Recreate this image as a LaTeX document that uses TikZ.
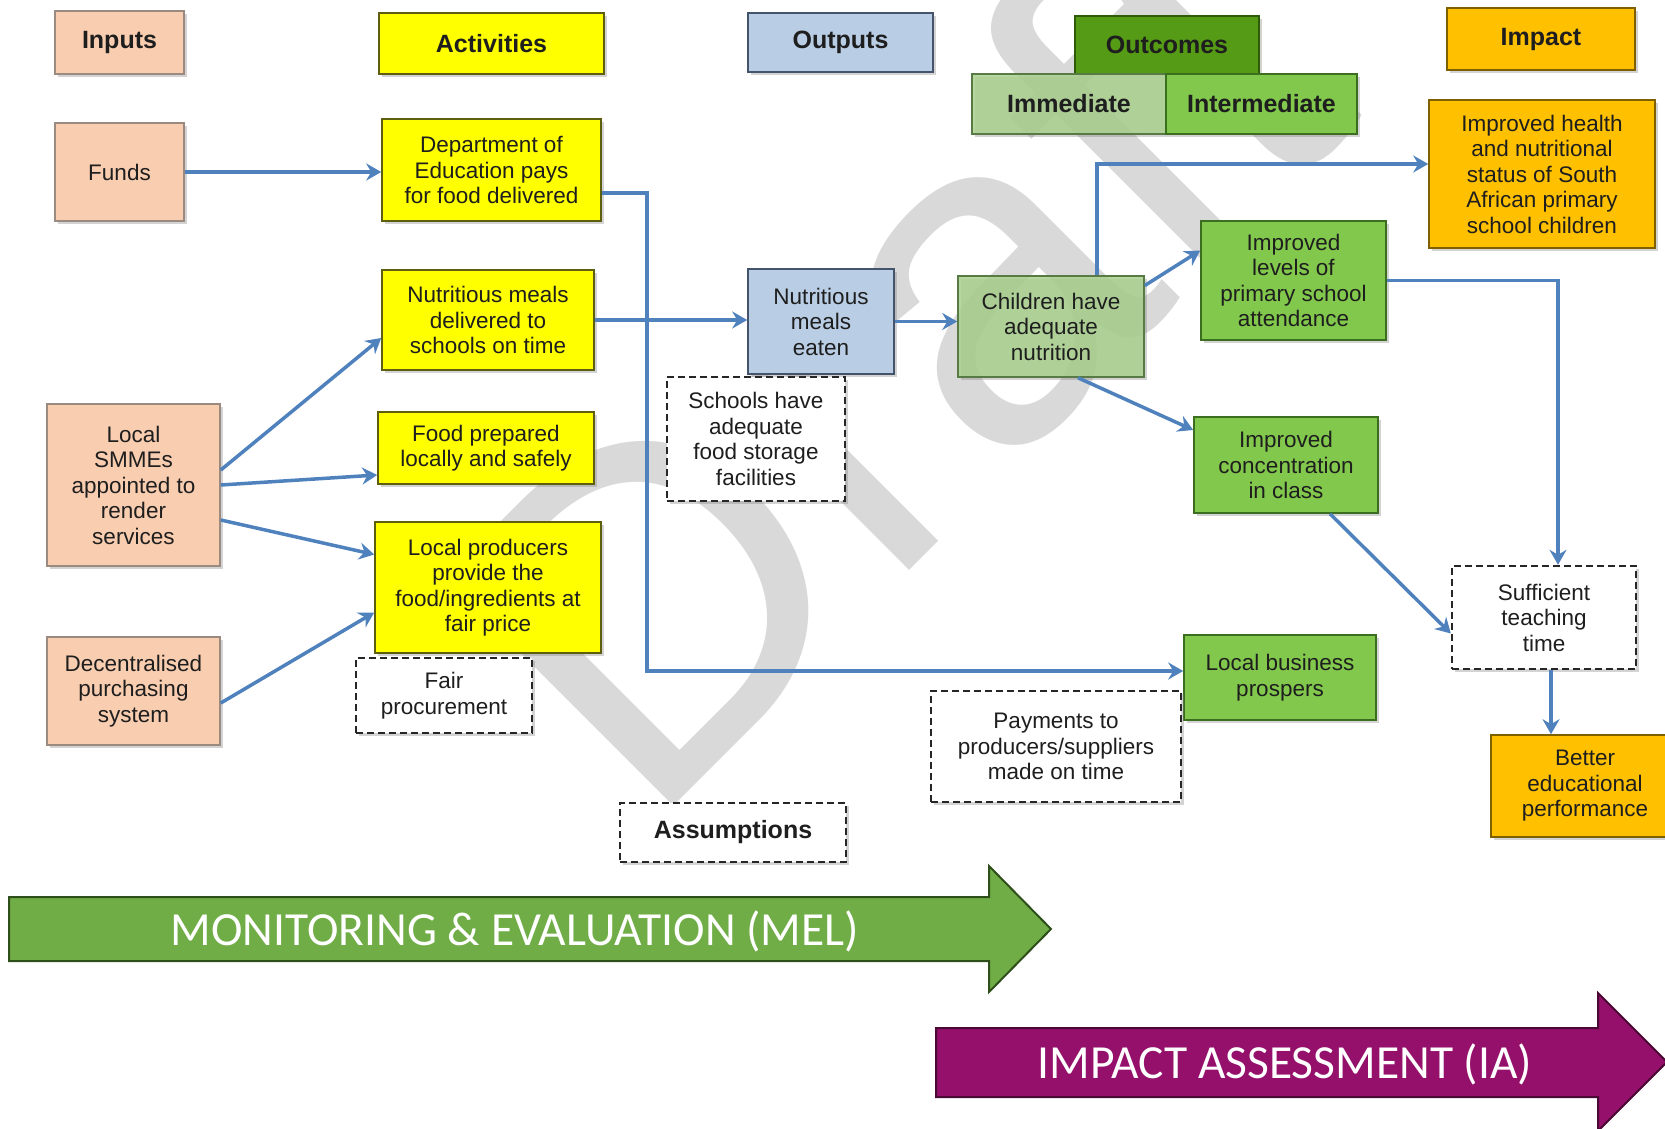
\documentclass[tikz,border=0pt]{standalone}
\usepackage{fontspec}
\setmainfont{Liberation Sans}
\newfontfamily\calibfont{Carlito}
\usetikzlibrary{arrows.meta,shadows}

\definecolor{txt}{HTML}{1E1E1E}
\definecolor{peach}{HTML}{F9CDB0}
\definecolor{peachdk}{HTML}{9A8A80}
\definecolor{yel}{HTML}{FFFF00}
\definecolor{yeldk}{HTML}{5E5E10}
\definecolor{blu}{HTML}{B9CDE5}
\definecolor{bludk}{HTML}{44546A}
\definecolor{grn}{HTML}{82C84C}
\definecolor{grndk}{HTML}{3C6E1F}
\definecolor{lgrn}{HTML}{A9D18E}
\definecolor{lgrndk}{HTML}{587A44}
\definecolor{dgrn}{HTML}{559B16}
\definecolor{dgrndk}{HTML}{2D5B08}
\definecolor{org}{HTML}{FFC000}
\definecolor{orgdk}{HTML}{7F6000}
\definecolor{link}{HTML}{4F81BD}
\definecolor{wmark}{HTML}{D9D9D9}
\definecolor{melfill}{HTML}{70AD47}
\definecolor{meldk}{HTML}{2E4F1A}
\definecolor{iafill}{HTML}{94106B}
\definecolor{iadk}{HTML}{4A0835}

\begin{document}
\begin{tikzpicture}[x=1pt,y=-1pt,
  box/.style={draw, line width=1.6pt, align=center, inner sep=2pt, text=txt,
    font=\fontsize{22.5}{25.5}\selectfont,
    drop shadow={shadow xshift=3pt, shadow yshift=-3pt, opacity=0.35}},
  hdr/.style={font=\fontsize{25}{28}\selectfont\bfseries},
  sz/.style 2 args={minimum width=#1pt, minimum height=#2pt},
  inbox/.style={box, fill=peach, draw=peachdk},
  actbox/.style={box, fill=yel, draw=yeldk},
  outbox/.style={box, fill=blu, draw=bludk},
  imbox/.style={box, fill=lgrn, fill opacity=0.85, text opacity=1, draw=lgrndk},
  midbox/.style={box, fill=grn, draw=grndk},
  topbox/.style={box, fill=dgrn, draw=dgrndk},
  impbox/.style={box, fill=org, draw=orgdk},
  asmbox/.style={box, fill=white, draw=black!85, line width=2.4pt,
    dash pattern=on 7pt off 4pt},
  arr/.style={draw=link, line width=3.5pt,
    -{Stealth[length=15pt, width=17pt, inset=5pt]}},
  bigtext/.style={text=white, font=\calibfont\fontsize{47.5}{50}\selectfont},
]
\useasboundingbox (0,0) rectangle (1665,1129);

% watermark
\node[anchor=base west, rotate=45, text=wmark, inner sep=0pt,
  font=\fontsize{470}{470}\selectfont] (draftmark) at (646,834) {Draft};

% column headers
\node[inbox, hdr, sz={129}{63}] (inputs) at (119.5,42.5) {Inputs};
\node[actbox, hdr, sz={225}{61}] (activities) at (491.5,43.5) {Activities};
\node[outbox, hdr, sz={185}{59}] (outputs) at (840.5,42.5) {Outputs};
\node[topbox, hdr, sz={184}{58}] (outcomes) at (1167,45) {Outcomes};
\node[imbox, hdr, sz={194}{60}] (immediate) at (1069,104) {Immediate};
\node[midbox, hdr, sz={191}{60}] (intermediate) at (1261.5,104) {Intermediate};
\node[impbox, hdr, sz={188}{62}] (impact) at (1541,39) {Impact};

% inputs
\node[inbox, sz={129}{98}] (funds) at (119.5,172) {Funds};
\node[inbox, sz={173}{162}] (smmes) at (133.5,485) {Local\\SMMEs\\appointed to\\render\\services};
\node[inbox, sz={173}{108}] (decent) at (133.5,691) {Decentralised\\purchasing\\system};

% activities
\node[actbox, sz={219}{102}] (dept) at (491.5,170) {Department of\\Education pays\\for food delivered};
\node[actbox, sz={212}{100}] (mealsdel) at (488,320) {Nutritious meals\\delivered to\\schools on time};
\node[actbox, sz={216}{72}] (food) at (486,448) {Food prepared\\locally and safely};
\node[actbox, sz={226}{131}] (prod) at (488,587.5) {Local producers\\provide the\\food/ingredients at\\fair price};
\node[asmbox, sz={176}{75}] (fairproc) at (444,695.5) {Fair\\procurement};

% outputs
\node[outbox, sz={146}{105}] (eaten) at (821,321.5) {Nutritious\\meals\\eaten};
\node[asmbox, sz={178}{124}] (storage) at (756,439) {Schools have\\adequate\\food storage\\facilities};

% outcomes
\node[imbox, sz={186}{101}] (children) at (1051,326.5) {Children have\\adequate\\nutrition};
\node[midbox, sz={185}{119}] (levels) at (1293.5,280.5) {Improved\\levels of\\primary school\\attendance};
\node[midbox, sz={184}{96}] (conc) at (1286,465) {Improved\\concentration\\in class};
\node[midbox, sz={192}{85}] (biz) at (1280,677.5) {Local business\\prospers};
\node[asmbox, sz={250}{111}] (payments) at (1056,746.5) {Payments to\\producers/suppliers\\made on time};

% impact
\node[impbox, sz={226}{148}] (health) at (1542,174) {Improved health\\and nutritional\\status of South\\African primary\\school children};
\node[asmbox, sz={184}{103}] (suff) at (1544,617.5) {Sufficient\\teaching\\time};
\node[impbox, sz={188}{102}] (better) at (1585,786) {Better\\educational\\performance};

\node[asmbox, hdr, sz={226}{59}] (assump) at (733,832.5) {Assumptions};

% links
\draw[arr] (funds.east) -- (funds.east -| dept.west);
\draw[arr] ([yshift=-23pt]dept.east) -- ++(45,0) |- ([yshift=6.5pt]biz.west);
\draw[arr] (mealsdel.east) -- (mealsdel.east -| eaten.west);
\draw[arr] (eaten.east) -- (eaten.east -| children.west);
\draw[arr] ([xshift=46pt]children.north) |- ([yshift=10pt]health.west);
\draw[arr] ([yshift=41pt]children.east) -- ([yshift=30pt]levels.west);
\draw[arr] ([xshift=27pt]children.south) -- ([yshift=35pt]conc.west);
\draw[arr] (levels.east) -| ([xshift=14pt]suff.north);
\draw[arr] ([xshift=44pt]conc.south) -- ([yshift=-16pt]suff.west);
\draw[arr] ([xshift=7pt]suff.south) -- ([xshift=7pt]suff.south |- better.north);
\draw[arr] ([yshift=15pt]smmes.east) -- ([yshift=-18pt]mealsdel.west);
\draw[arr] (smmes.east) -- ([yshift=-27pt]food.west);
\draw[arr] ([yshift=-35pt]smmes.east) -- ([yshift=33pt]prod.west);
\draw[arr] ([yshift=-12pt]decent.east) -- ([yshift=-25pt]prod.west);

% process arrows
\draw[fill=melfill, draw=meldk, line width=2pt]
  (9,897) -- (989,897) -- (989,866) -- (1051,929) -- (989,992) -- (989,961) -- (9,961) -- cycle;
\node[bigtext] (mel) at (515,931) {MONITORING \& EVALUATION (MEL)};
\draw[fill=iafill, draw=iadk, line width=2pt]
  (936,1028) -- (1598,1028) -- (1598,993) -- (1667,1062) -- (1598,1131) -- (1598,1097) -- (936,1097) -- cycle;
\node[bigtext] (ia) at (1285,1064) {IMPACT ASSESSMENT (IA)};
\end{tikzpicture}
\end{document}
